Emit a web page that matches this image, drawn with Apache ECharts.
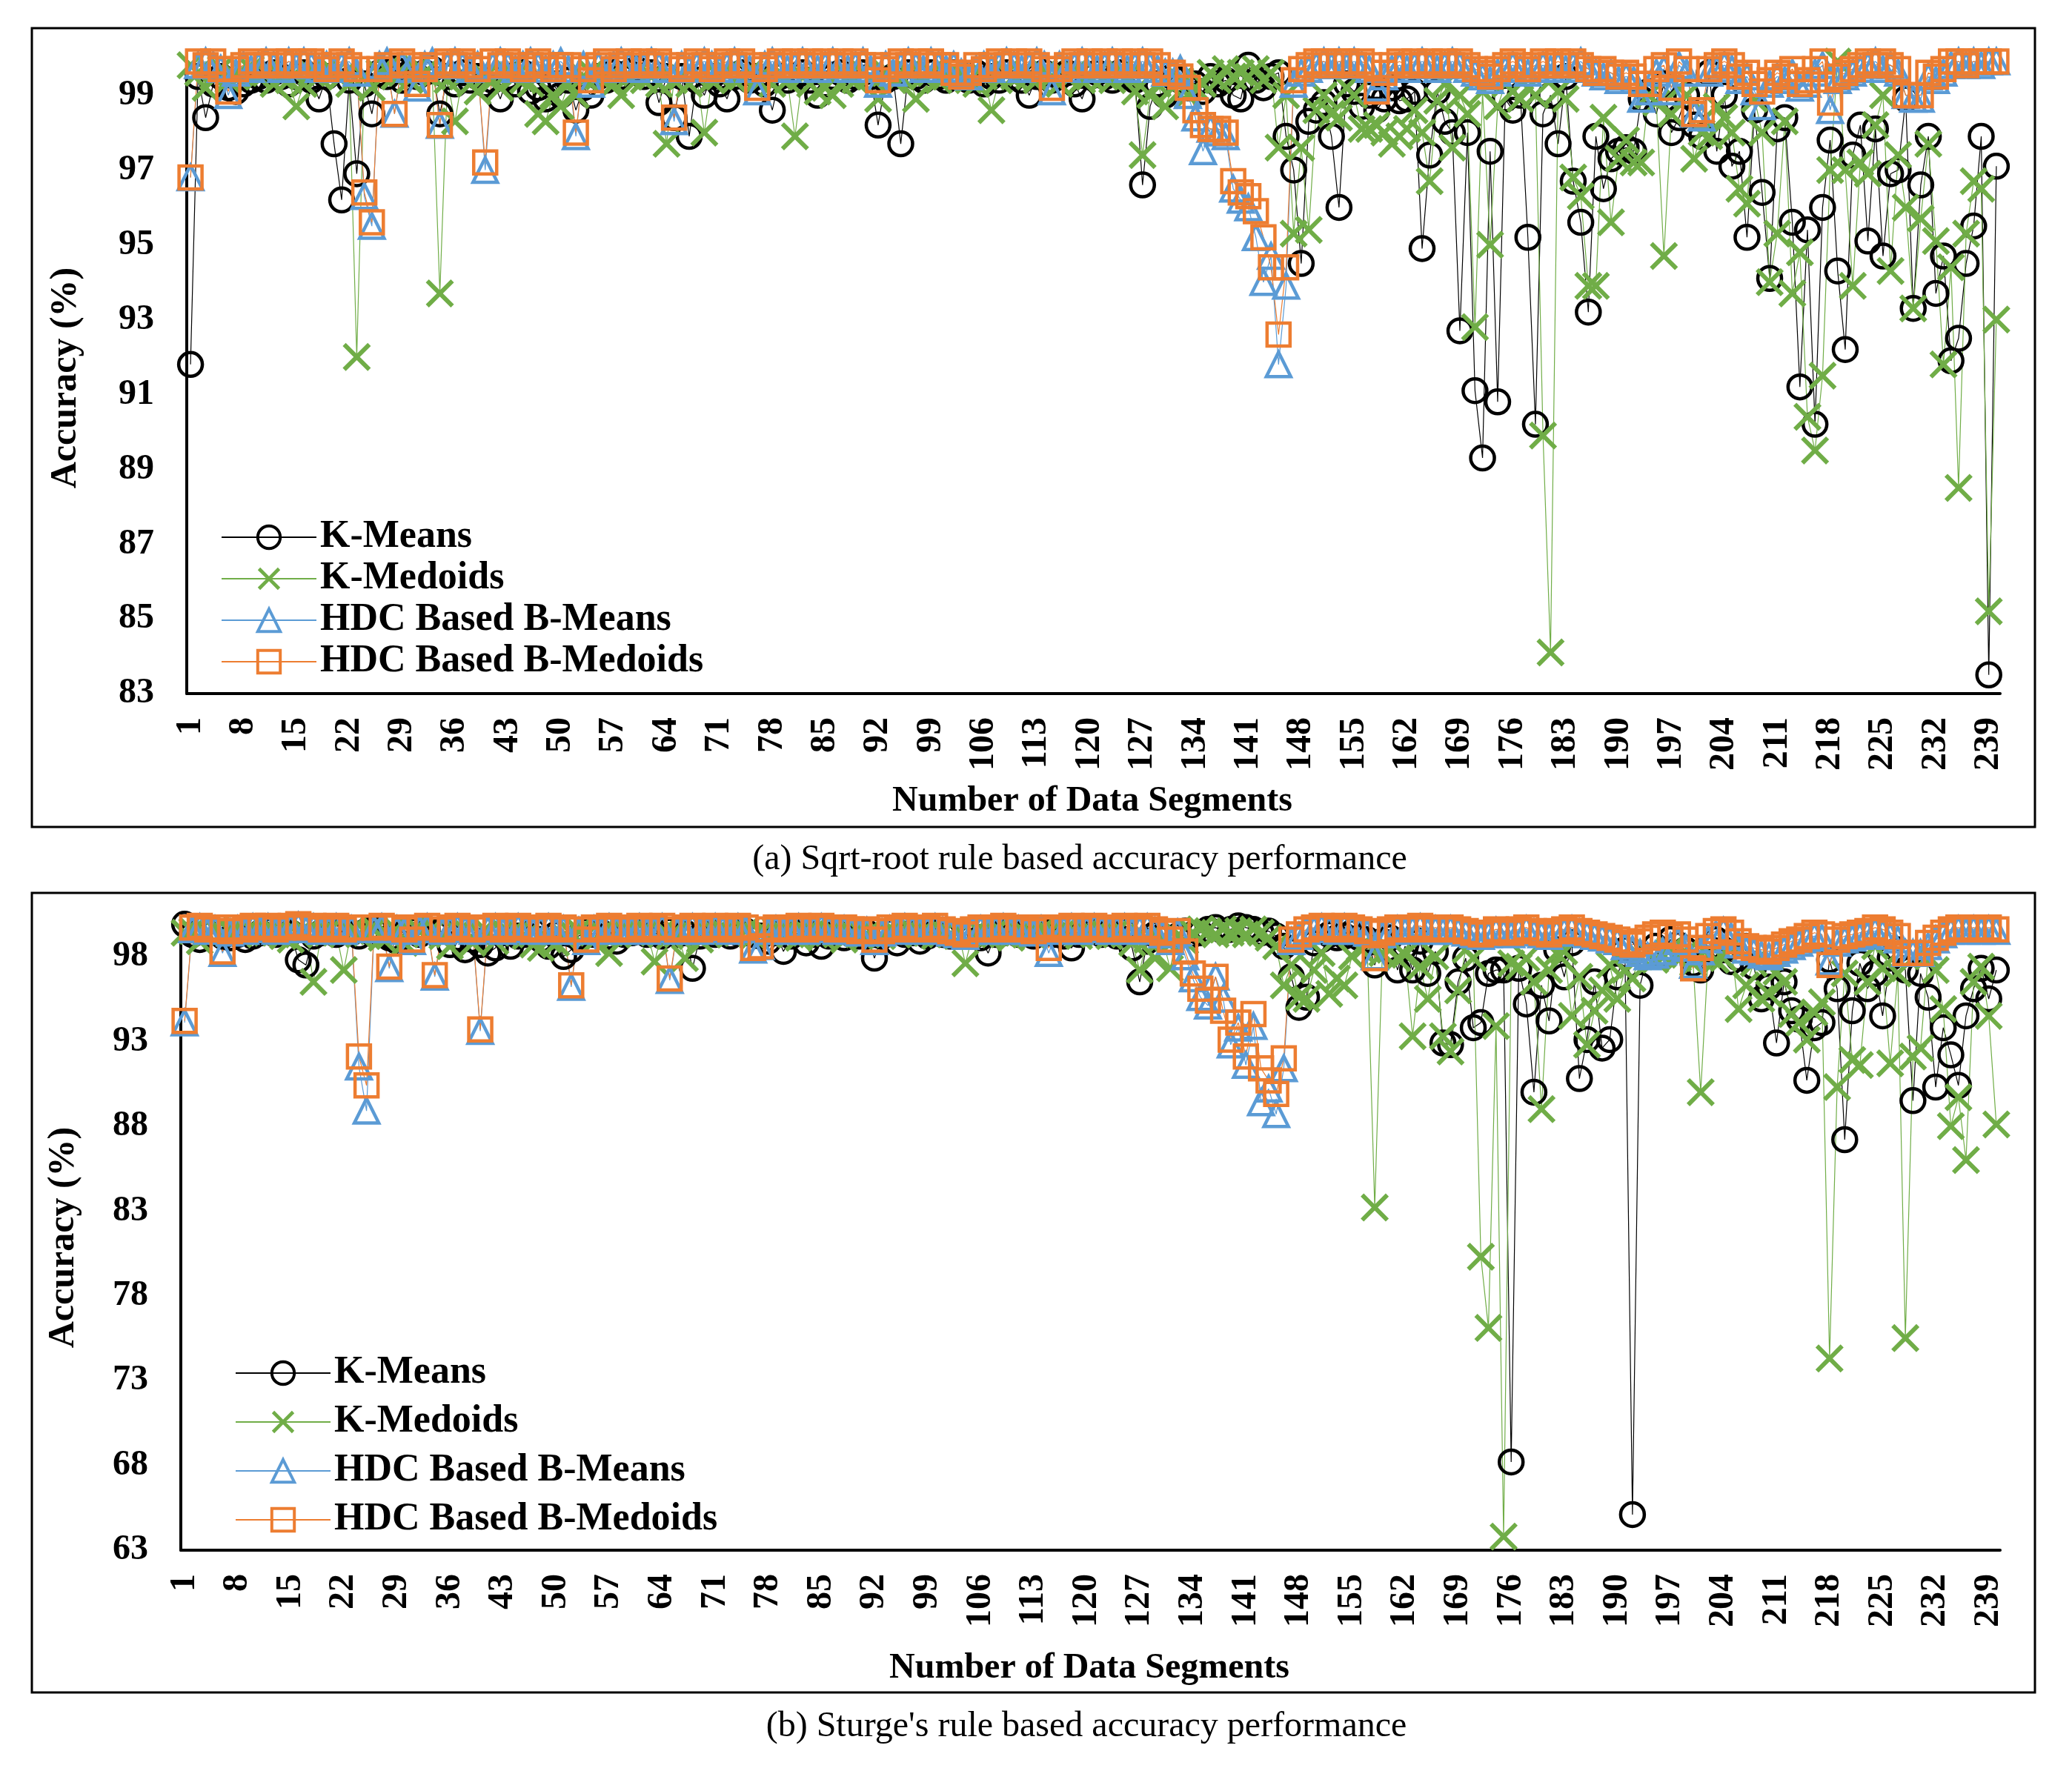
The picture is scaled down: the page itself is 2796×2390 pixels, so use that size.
<!DOCTYPE html>
<html>
<head>
<meta charset="utf-8">
<title>Accuracy performance</title>
<script src="https://cdn.jsdelivr.net/npm/echarts@6.0.0/dist/echarts.min.js"></script>
<style>
  html, body { margin: 0; padding: 0; background: #fff; }
  #chart { width: 2796px; height: 2390px; }
</style>
</head>
<body>
<div id="chart"></div>
<script>
// segment numbers 1..240 on the x axis
var segments = [];
for (var s = 1; s <= 240; s++) segments.push(String(s));

var seriesNames = ['K-Means', 'K-Medoids', 'HDC Based B-Means', 'HDC Based B-Medoids'];

// (a) Sqrt-root rule
var kMeansA = [
  91.8, 99.5, 98.4, 99.3, 99.5, 99.2, 99.1, 99.3, 99.4, 99.5,
  99.4, 99.6, 99.5, 99.3, 99.5, 99.6, 99.4, 98.9, 99.5, 97.7,
  96.2, 99.4, 96.9, 99.3, 98.5, 99.6, 99.5, 99.7, 99.4, 99.6,
  99.5, 99.6, 99.7, 98.5, 99.5, 99.3, 99.6, 99.4, 99.5, 99.3,
  99.4, 98.9, 99.5, 99.3, 99.6, 99.1, 99.2, 98.9, 99.3, 99.0,
  99.4, 98.6, 99.2, 99.0, 99.5, 99.4, 99.6, 99.5, 99.6, 99.7,
  99.5, 99.6, 98.8, 99.5, 98.4, 99.5, 97.9, 99.4, 99.0, 99.5,
  99.3, 98.9, 99.5, 99.6, 99.4, 99.5, 99.3, 98.6, 99.5, 99.4,
  99.5, 99.6, 99.4, 99.0, 99.3, 99.5, 99.6, 99.4, 99.5, 99.6,
  99.5, 98.2, 99.4, 99.5, 97.7, 99.6, 99.5, 99.4, 99.6, 99.5,
  99.4, 99.6, 99.5, 99.4, 99.6, 99.3, 99.5, 99.4, 99.6, 99.5,
  99.4, 99.0, 99.5, 99.6, 99.4, 99.5, 99.6, 99.3, 98.9, 99.5,
  99.6, 99.5, 99.4, 99.6, 99.5, 99.4, 96.6, 98.7, 99.3, 99.0,
  99.5, 99.4, 99.2, 99.3, 99.1, 99.5, 99.3, 99.4, 99.0, 98.9,
  99.8, 99.4, 99.2, 99.5, 99.6, 97.9, 97.0, 94.5, 98.3, 98.6,
  98.8, 97.9, 96.0, 99.3, 99.1, 98.7, 99.0, 98.6, 98.9, 99.2,
  98.85, 98.9, 99.1, 94.9, 97.4, 99.1, 98.3, 98.0, 92.7, 98.0,
  91.1, 89.3, 97.5, 90.8, 98.9, 98.6, 99.0, 95.2, 90.2, 98.5,
  99.0, 97.7, 99.5, 96.7, 95.6, 93.2, 97.9, 96.5, 97.3, 97.5,
  97.6, 97.5, 98.9, 99.1, 98.5, 99.3, 98.0, 98.4, 99.0, 98.2,
  97.9, 99.6, 97.5, 99.0, 97.1, 97.5, 95.2, 98.6, 96.4, 94.1,
  98.1, 98.4, 95.6, 91.2, 95.4, 90.2, 96.0, 97.8, 94.3, 92.2,
  97.4, 98.2, 95.1, 98.1, 94.7, 96.9, 97.0, 98.9, 93.3, 96.6,
  97.9, 93.7, 94.7, 91.9, 92.5, 94.5, 95.5, 97.9, 83.5, 97.1
];
var kMedoidsA = [
  99.8, 99.6, 99.2, 99.5, 99.7, 99.4, 99.5, 99.6, 99.7, 99.5,
  99.6, 99.3, 99.5, 99.4, 98.7, 99.3, 99.6, 99.5, 99.7, 99.6,
  99.5, 99.3, 92.0, 99.5, 99.2, 99.6, 99.7, 99.5, 99.6, 99.4,
  99.7, 99.6, 99.5, 93.7, 99.4, 98.3, 99.5, 99.3, 99.1, 99.5,
  99.4, 99.2, 99.6, 99.5, 99.4, 99.3, 98.5, 98.3, 99.0, 98.7,
  99.3, 99.0, 99.5, 99.6, 99.5, 99.4, 99.3, 99.0, 99.5, 99.6,
  99.4, 99.5, 99.3, 97.7, 99.4, 99.5, 99.3, 99.5, 98.0, 99.4,
  99.5, 99.6, 99.4, 99.5, 99.6, 99.4, 99.5, 99.3, 99.5, 99.4,
  97.9, 99.5, 99.3, 99.1, 99.2, 99.0, 99.3, 99.5, 99.4, 99.6,
  99.5, 98.9, 99.6, 99.4, 99.5, 99.6, 98.9, 99.5, 99.6, 99.4,
  99.5, 99.6, 99.5, 99.4, 99.3, 99.5, 98.6, 99.4, 99.6, 99.5,
  99.6, 99.5, 99.4, 99.6, 99.5, 99.3, 99.5, 99.6, 99.4, 99.5,
  99.6, 99.5, 99.4, 99.6, 99.5, 99.1, 97.4, 99.0, 99.3, 98.7,
  99.2, 99.4, 99.0, 99.2, 99.3, 99.6, 99.4, 99.7, 99.5, 99.6,
  99.5, 99.7, 99.4, 99.6, 97.6, 99.0, 95.3, 97.6, 95.4, 98.6,
  99.0, 98.5, 98.4, 99.2, 99.0, 98.1, 98.1, 98.2, 98.0, 97.7,
  97.9, 98.1, 98.6, 98.0, 96.7, 98.85, 99.3, 97.6, 99.0, 98.5,
  92.8, 99.1, 95.0, 98.7, 99.3, 99.1, 98.9, 99.2, 99.0, 89.9,
  84.1, 99.1, 98.9, 96.8, 96.3, 93.9, 93.9, 98.4, 95.6, 97.3,
  97.8, 97.2, 97.2, 99.0, 98.8, 94.7, 98.5, 99.2, 99.0, 97.3,
  98.0, 97.9, 98.7, 98.4, 98.0, 96.5, 96.1, 98.9, 98.0, 94.0,
  95.3, 98.3, 93.7, 94.8, 90.4, 89.5, 91.5, 97.0, 99.9, 97.0,
  93.9, 97.2, 96.9, 98.2, 99.0, 94.3, 97.4, 96.0, 93.3, 95.7,
  97.7, 95.1, 91.8, 94.4, 88.5, 95.3, 96.7, 96.5, 85.2, 93.0
];
var bMeansA = [
  96.8, 99.8, 99.9, 99.8, 99.7, 99.0, 99.6, 99.8, 99.7, 99.8,
  99.9, 99.8, 99.7, 99.9, 99.8, 99.9, 99.8, 99.7, 99.8, 99.7,
  99.8, 99.9, 99.6, 96.3, 95.5, 99.8, 99.9, 98.5, 99.8, 99.7,
  99.2, 99.8, 99.9, 98.2, 99.8, 99.9, 99.8, 99.7, 99.8, 97.0,
  99.8, 99.9, 99.8, 99.7, 99.8, 99.9, 99.8, 99.7, 99.8, 99.9,
  99.7, 97.9, 99.8, 99.3, 99.8, 99.7, 99.8, 99.9, 99.8, 99.7,
  99.8, 99.9, 99.8, 99.7, 98.3, 99.8, 99.7, 99.8, 99.9, 99.8,
  99.7, 99.8, 99.9, 99.8, 99.7, 99.1, 99.8, 99.9, 99.8, 99.7,
  99.8, 99.9, 99.8, 99.7, 99.8, 99.9, 99.8, 99.7, 99.8, 99.9,
  99.7, 99.3, 99.8, 99.6, 99.8, 99.9, 99.8, 99.7, 99.9, 99.8,
  99.7, 99.8, 99.6, 99.5, 99.7, 99.8, 99.7, 99.8, 99.9, 99.8,
  99.7, 99.8, 99.9, 99.8, 99.1, 99.8, 99.7, 99.8, 99.9, 99.8,
  99.7, 99.8, 99.9, 99.8, 99.7, 99.8, 99.9, 99.8, 99.7, 99.6,
  99.6, 99.7, 99.0, 98.4, 97.5, 98.1, 98.0, 97.9, 96.5, 96.2,
  96.0, 95.2, 94.0, 94.7, 91.8, 93.9, 99.3, 99.6, 99.7, 99.8,
  99.9, 99.8, 99.9, 99.8, 99.9, 99.8, 99.7, 99.2, 99.5, 99.7,
  99.8, 99.7, 99.8, 99.9, 99.8, 99.7, 99.8, 99.9, 99.8, 99.7,
  99.6, 99.5, 99.4, 99.6, 99.7, 99.8, 99.7, 99.6, 99.7, 99.8,
  99.7, 99.8, 99.7, 99.8, 99.9, 99.7, 99.6, 99.5, 99.6, 99.4,
  99.5, 99.4, 98.9, 99.1, 99.6, 99.7, 99.1, 99.8, 99.6, 98.5,
  98.4, 99.6, 99.7, 99.8, 99.7, 99.4, 99.5, 99.1, 98.7, 99.3,
  99.5, 99.4, 99.6, 99.2, 99.3, 99.6, 99.8, 98.6, 99.4, 99.5,
  99.6, 99.7, 99.8, 99.9, 99.7, 99.8, 99.6, 99.0, 98.9, 98.9,
  99.5, 99.4, 99.6, 99.8, 99.9, 99.8, 99.9, 99.8, 99.9, 99.9
];
var bMedoidsA = [
  96.8, 99.9, 99.8, 99.9, 99.7, 99.1, 99.7, 99.8, 99.9, 99.8,
  99.8, 99.9, 99.8, 99.9, 99.8, 99.9, 99.9, 99.8, 99.7, 99.8,
  99.9, 99.8, 99.7, 96.4, 95.6, 99.7, 99.8, 98.5, 99.9, 99.8,
  99.3, 99.7, 99.8, 98.2, 99.9, 99.8, 99.9, 99.8, 99.7, 97.2,
  99.9, 99.8, 99.9, 99.8, 99.7, 99.8, 99.9, 99.8, 99.7, 99.8,
  99.8, 98.0, 99.7, 99.4, 99.8, 99.9, 99.7, 99.8, 99.9, 99.8,
  99.9, 99.8, 99.9, 99.8, 98.4, 99.7, 99.8, 99.9, 99.8, 99.7,
  99.8, 99.9, 99.8, 99.9, 99.8, 99.2, 99.7, 99.8, 99.9, 99.8,
  99.9, 99.8, 99.9, 99.8, 99.9, 99.8, 99.9, 99.8, 99.9, 99.8,
  99.8, 99.4, 99.7, 99.8, 99.9, 99.8, 99.9, 99.8, 99.9, 99.8,
  99.8, 99.6, 99.5, 99.6, 99.8, 99.7, 99.8, 99.9, 99.8, 99.9,
  99.8, 99.9, 99.8, 99.7, 99.2, 99.7, 99.8, 99.9, 99.8, 99.9,
  99.8, 99.9, 99.8, 99.9, 99.8, 99.9, 99.8, 99.9, 99.8, 99.6,
  99.6, 99.5, 99.2, 98.6, 98.2, 98.1, 98.1, 98.0, 96.7, 96.4,
  96.3, 95.9, 95.2, 94.4, 92.6, 94.4, 99.4, 99.7, 99.8, 99.9,
  99.9, 99.8, 99.9, 99.9, 99.8, 99.9, 99.8, 99.1, 99.6, 99.8,
  99.9, 99.8, 99.9, 99.8, 99.9, 99.8, 99.9, 99.8, 99.9, 99.8,
  99.7, 99.6, 99.5, 99.7, 99.8, 99.9, 99.8, 99.7, 99.8, 99.9,
  99.8, 99.9, 99.8, 99.9, 99.8, 99.7, 99.6, 99.7, 99.6, 99.5,
  99.6, 99.5, 99.3, 99.3, 99.7, 99.8, 99.2, 99.9, 99.7, 98.5,
  98.6, 99.7, 99.8, 99.9, 99.8, 99.5, 99.6, 99.3, 99.1, 99.4,
  99.6, 99.5, 99.7, 99.3, 99.4, 99.7, 99.9, 98.8, 99.5, 99.6,
  99.7, 99.8, 99.9, 99.8, 99.9, 99.8, 99.7, 99.0, 99.0, 99.0,
  99.6, 99.5, 99.7, 99.9, 99.9, 99.8, 99.9, 99.9, 99.9, 99.9
];

// (b) Sturge's rule
var kMeansB = [
  99.9, 99.3, 99.0, 99.4, 99.5, 99.2, 99.1, 99.3, 99.0, 99.2,
  99.4, 99.5, 99.3, 99.5, 99.4, 97.8, 97.5, 99.2, 99.4, 99.5,
  99.3, 99.5, 99.4, 99.2, 99.5, 99.6, 99.3, 99.1, 98.9, 99.4,
  99.5, 99.3, 99.6, 99.4, 99.5, 98.7, 99.1, 98.4, 99.0, 98.7,
  98.2, 98.5, 99.4, 98.6, 99.2, 99.3, 99.5, 99.0, 98.6, 99.3,
  98.0, 98.4, 99.2, 99.5, 99.3, 99.4, 99.2, 98.9, 99.3, 99.4,
  99.5, 99.3, 99.4, 99.2, 99.5, 99.3, 99.4, 97.3, 99.2, 99.4,
  99.3, 99.5, 99.2, 99.4, 99.5, 99.3, 99.2, 98.9, 99.4, 98.3,
  99.2, 99.4, 98.8, 99.3, 98.6, 99.2, 99.4, 99.1, 99.3, 99.2,
  99.4, 97.9, 99.2, 99.4, 98.8, 99.3, 99.4, 98.9, 99.2, 99.4,
  99.3, 99.2, 99.4, 99.3, 99.2, 99.1, 98.2, 99.3, 99.4, 99.5,
  99.3, 99.4, 99.2, 99.5, 99.4, 99.3, 99.2, 98.5, 99.3, 99.4,
  99.5, 99.3, 99.4, 99.2, 99.5, 98.5, 96.5, 98.9, 99.3, 99.2,
  99.4, 99.2, 99.5, 99.3, 99.4, 99.6, 99.7, 99.5, 99.6, 99.8,
  99.7, 99.6, 99.4, 99.5, 99.2, 98.6, 96.8, 95.0, 95.6, 98.8,
  99.0, 99.3, 99.1, 99.2, 99.4, 99.1, 99.0, 97.5, 98.9, 99.1,
  97.2, 98.6, 97.2, 98.9, 97.0, 98.3, 92.9, 92.8, 96.5, 97.9,
  93.8, 94.1, 97.0, 97.2, 97.2, 68.2, 97.3, 95.2, 90.0, 96.3,
  94.2, 98.4, 96.8, 98.8, 90.8, 93.1, 96.5, 92.6, 93.1, 96.8,
  98.4, 65.1, 96.3, 98.0, 98.6, 98.2, 99.0, 98.7, 98.4, 97.6,
  97.2, 98.5, 99.0, 98.4, 97.7, 97.9, 98.6, 97.4, 95.5, 96.2,
  92.9, 96.5, 94.8, 94.3, 90.7, 93.8, 94.1, 97.8, 96.1, 87.2,
  94.8, 97.6, 96.1, 97.0, 94.5, 97.9, 98.4, 97.2, 89.5, 97.0,
  95.6, 90.3, 93.8, 92.2, 90.4, 94.5, 96.1, 97.3, 95.5, 97.2
];
var kMedoidsB = [
  99.4, 99.5, 98.9, 99.3, 99.6, 99.4, 99.5, 99.6, 99.4, 99.5,
  99.3, 99.5, 99.4, 99.2, 99.0, 99.3, 99.4, 96.5, 99.3, 99.5,
  99.4, 97.2, 99.5, 99.3, 99.4, 99.6, 99.1, 99.2, 99.5, 98.8,
  99.4, 99.5, 99.3, 99.6, 99.2, 98.6, 99.4, 99.5, 98.8, 99.3,
  99.4, 98.9, 99.5, 99.3, 99.4, 99.2, 98.7, 98.5, 99.0, 98.8,
  99.2, 99.4, 99.5, 99.3, 98.9, 99.4, 98.2, 99.3, 99.5, 99.4,
  99.3, 99.5, 97.7, 99.4, 99.2, 99.3, 97.9, 99.4, 99.0, 99.3,
  99.4, 99.5, 99.3, 99.4, 99.5, 99.2, 99.4, 99.3, 99.5, 99.4,
  99.3, 99.1, 99.4, 99.5, 99.2, 99.4, 99.3, 99.0, 99.4, 99.5,
  99.3, 99.4, 99.2, 99.5, 99.3, 99.4, 99.5, 99.3, 99.4, 99.2,
  99.4, 99.3, 99.5, 97.6, 99.3, 99.4, 99.2, 99.5, 99.3, 99.1,
  99.4, 99.3, 99.2, 99.5, 99.4, 99.3, 99.5, 99.4, 99.2, 99.5,
  99.3, 99.4, 99.2, 99.5, 99.3, 98.8, 97.2, 99.0, 97.9, 99.1,
  97.3, 99.2, 98.9, 99.4, 99.6, 99.5, 99.3, 99.6, 99.4, 99.5,
  99.3, 99.6, 99.4, 99.1, 98.6, 96.3, 97.5, 95.6, 95.5, 97.2,
  98.2, 95.8, 96.7, 96.3, 98.0, 98.5, 98.7, 83.2, 98.2, 98.4,
  97.9, 98.1, 93.3, 97.4, 95.5, 98.0, 93.3, 92.4, 96.0, 98.4,
  97.9, 80.3, 76.1, 93.9, 63.8, 97.6, 97.4, 97.9, 96.5, 89.0,
  97.2, 98.2, 98.3, 94.5, 96.8, 92.8, 94.8, 96.0, 97.5, 95.5,
  97.2, 96.7, 98.0, 98.3, 97.8, 98.1, 98.4, 97.9, 98.2, 97.6,
  90.0, 98.1, 97.8, 97.9, 98.6, 94.9, 96.3, 97.6, 95.5, 95.8,
  97.1, 96.5, 94.6, 94.1, 93.1, 94.7, 95.3, 74.3, 90.3, 97.0,
  91.9, 91.6, 96.5, 98.6, 97.3, 91.7, 97.0, 75.5, 92.1, 92.6,
  98.0, 97.2, 94.9, 88.0, 89.7, 86.0, 96.5, 97.4, 94.5, 88.1
];
var bMeansB = [
  94.1, 99.6, 99.7, 99.5, 99.6, 98.2, 99.4, 99.6, 99.5, 99.7,
  99.6, 99.7, 99.5, 99.6, 99.7, 99.8, 99.6, 99.7, 99.5, 99.6,
  99.7, 99.5, 99.6, 91.5, 88.9, 99.6, 99.7, 97.3, 99.6, 99.5,
  98.9, 99.6, 99.7, 96.8, 99.5, 99.6, 99.7, 99.6, 99.5, 93.6,
  99.6, 99.7, 99.5, 99.6, 99.7, 99.6, 99.5, 99.6, 99.7, 99.5,
  99.6, 96.2, 99.5, 98.9, 99.6, 99.5, 99.7, 99.6, 99.5, 99.6,
  99.7, 99.5, 99.6, 99.7, 96.6, 99.5, 99.6, 99.7, 99.5, 99.6,
  99.7, 99.6, 99.5, 99.7, 99.6, 98.4, 98.6, 99.5, 99.6, 99.5,
  99.6, 99.7, 99.5, 99.6, 99.7, 99.6, 99.5, 99.6, 99.5, 99.4,
  99.5, 98.9, 99.4, 99.6, 99.5, 99.7, 99.6, 99.5, 99.6, 99.7,
  99.5, 99.4, 99.3, 99.2, 99.5, 99.6, 99.5, 99.6, 99.7, 99.5,
  99.6, 99.5, 99.4, 99.6, 98.2, 99.5, 99.6, 99.7, 99.5, 99.6,
  99.7, 99.6, 99.5, 99.6, 99.7, 99.5, 99.6, 99.7, 99.5, 99.3,
  98.9, 99.4, 98.0, 96.7, 95.6, 95.1, 96.8, 95.5, 92.8, 93.8,
  91.6, 93.9, 89.4, 90.2, 88.7, 91.4, 98.9, 99.2, 99.5, 99.6,
  99.7, 99.6, 99.5, 99.7, 99.6, 99.5, 99.4, 98.0, 99.3, 99.5,
  99.6, 99.5, 99.6, 99.7, 99.5, 99.6, 99.5, 99.6, 99.5, 99.4,
  99.3, 99.2, 99.3, 99.5, 99.4, 99.3, 99.5, 99.6, 99.4, 99.3,
  99.2, 99.4, 99.5, 99.6, 99.4, 99.3, 99.2, 99.1, 99.0, 98.9,
  98.6, 98.4, 98.2, 98.0, 98.1, 98.3, 98.6, 98.9, 98.5, 97.5,
  98.3, 99.0, 99.3, 99.5, 99.2, 98.7, 98.4, 98.3, 98.1, 98.0,
  98.2, 98.4, 98.6, 98.8, 99.0, 99.2, 99.1, 97.7, 98.8, 99.0,
  99.1, 99.2, 99.3, 99.5, 99.4, 99.2, 99.0, 98.2, 98.2, 98.2,
  98.6, 99.0, 99.3, 99.5, 99.6, 99.5, 99.6, 99.5, 99.6, 99.5
];
var bMedoidsB = [
  94.2, 99.7, 99.8, 99.6, 99.7, 98.3, 99.5, 99.7, 99.6, 99.8,
  99.7, 99.8, 99.6, 99.7, 99.8, 99.9, 99.7, 99.8, 99.6, 99.7,
  99.8, 99.6, 99.7, 92.1, 90.4, 99.7, 99.8, 97.4, 99.7, 99.6,
  99.0, 99.7, 99.8, 96.9, 99.6, 99.7, 99.8, 99.7, 99.6, 93.7,
  99.7, 99.8, 99.6, 99.7, 99.8, 99.7, 99.6, 99.7, 99.8, 99.6,
  99.7, 96.3, 99.6, 99.0, 99.7, 99.6, 99.8, 99.7, 99.6, 99.7,
  99.8, 99.6, 99.7, 99.8, 96.7, 99.6, 99.7, 99.8, 99.6, 99.7,
  99.8, 99.7, 99.6, 99.8, 99.7, 98.5, 98.6, 99.6, 99.7, 99.6,
  99.7, 99.8, 99.6, 99.7, 99.8, 99.7, 99.6, 99.7, 99.6, 99.5,
  99.6, 99.0, 99.5, 99.7, 99.6, 99.8, 99.7, 99.6, 99.7, 99.8,
  99.6, 99.5, 99.4, 99.3, 99.6, 99.7, 99.6, 99.7, 99.8, 99.6,
  99.7, 99.6, 99.5, 99.7, 98.5, 99.6, 99.7, 99.8, 99.6, 99.7,
  99.8, 99.7, 99.6, 99.7, 99.8, 99.6, 99.7, 99.8, 99.6, 99.4,
  99.0, 99.5, 98.3, 97.0, 96.1, 95.4, 96.8, 94.8, 93.1, 94.1,
  92.1, 94.6, 91.4, 90.7, 89.9, 92.0, 99.0, 99.3, 99.6, 99.7,
  99.8, 99.7, 99.6, 99.8, 99.7, 99.6, 99.5, 97.9, 99.4, 99.6,
  99.7, 99.6, 99.7, 99.8, 99.6, 99.7, 99.6, 99.7, 99.6, 99.5,
  99.4, 99.3, 99.4, 99.6, 99.5, 99.4, 99.6, 99.7, 99.5, 99.4,
  99.3, 99.5, 99.6, 99.7, 99.5, 99.4, 99.3, 99.2, 99.1, 99.0,
  98.8, 98.7, 98.9, 99.1, 99.3, 99.4, 99.2, 99.3, 99.0, 97.3,
  98.5, 99.2, 99.5, 99.6, 99.4, 98.9, 98.6, 98.5, 98.4, 98.3,
  98.5, 98.7, 98.9, 99.0, 99.2, 99.4, 99.3, 97.5, 99.0, 99.2,
  99.3, 99.4, 99.5, 99.7, 99.6, 99.4, 99.2, 98.2, 98.2, 98.2,
  98.8, 99.1, 99.4, 99.6, 99.7, 99.6, 99.7, 99.6, 99.7, 99.6
];

var serifFont = "'Times New Roman', 'Liberation Serif', serif";
var crossPath = 'path://M0,1.1L1.1,0L5,3.9L8.9,0L10,1.1L6.1,5L10,8.9L8.9,10L5,6.1L1.1,10L0,8.9L3.9,5Z';

var looks = [
  { color: '#000000', symbol: 'circle', size: 32, filled: false },
  { color: '#70AD47', symbol: crossPath, size: 38, filled: true },
  { color: '#5B9BD5', symbol: 'triangle', size: 33, filled: false },
  { color: '#ED7D31', symbol: 'rect', size: 31, filled: false }
];

function makeSeries(idx, values, gridIdx) {
  var lk = looks[idx];
  return {
    name: seriesNames[idx],
    type: 'line',
    xAxisIndex: gridIdx,
    yAxisIndex: gridIdx,
    data: values,
    symbol: lk.symbol,
    symbolSize: lk.size,
    showAllSymbol: true,
    lineStyle: { color: lk.color, width: 1.2 },
    itemStyle: lk.filled
      ? { color: lk.color, borderWidth: 0 }
      : { color: 'rgba(255,255,255,0)', borderColor: lk.color, borderWidth: 4.5 },
    emphasis: { disabled: true }
  };
}

function xAxisFor(gridIdx) {
  return {
    type: 'category',
    gridIndex: gridIdx,
    data: segments,
    boundaryGap: true,
    axisLine: { lineStyle: { color: '#000', width: 4 } },
    axisTick: { show: false },
    axisLabel: {
      interval: 6, rotate: 90, margin: 32,
      fontFamily: serifFont, fontWeight: 'bold', fontSize: 48, color: '#000'
    },
    splitLine: { show: false }
  };
}

function yAxisFor(gridIdx, mn, step) {
  return {
    type: 'value',
    gridIndex: gridIdx,
    min: mn, max: 100, interval: step,
    axisLine: { show: true, lineStyle: { color: '#000', width: 4 } },
    axisTick: { show: false },
    axisLabel: {
      showMaxLabel: false, margin: 44,
      fontFamily: serifFont, fontWeight: 'bold', fontSize: 48, color: '#000'
    },
    splitLine: { show: false }
  };
}

function legendAt(left, top, gap) {
  return {
    orient: 'vertical',
    left: left, top: top,
    itemWidth: 128, itemHeight: 38, itemGap: gap,
    selectedMode: false,
    data: seriesNames,
    itemStyle: { borderWidth: 4 },
    textStyle: {
      fontFamily: serifFont, fontWeight: 'bold', fontSize: 52, color: '#000', lineHeight: 52
    }
  };
}

function boxText(x, y, txt, size, bold, rot) {
  return {
    type: 'text', x: x, y: y, rotation: rot || 0,
    style: {
      text: txt, fill: '#000', font: (bold ? 'bold ' : '') + size + 'px ' + serifFont,
      textAlign: 'center', textVerticalAlign: 'middle'
    }
  };
}

var chart = echarts.init(document.getElementById('chart'), null, { renderer: 'canvas' });

var option = {
  backgroundColor: '#ffffff',
  animation: false,
  grid: [
    { left: 252, top: 78, width: 2447, height: 858 },
    { left: 244, top: 1245, width: 2455, height: 847 }
  ],
  xAxis: [xAxisFor(0), xAxisFor(1)],
  yAxis: [yAxisFor(0, 83, 2), yAxisFor(1, 63, 5)],
  legend: [legendAt(293, 694, 4), legendAt(312, 1822, 14)],
  series: [
    makeSeries(0, kMeansA, 0),
    makeSeries(1, kMedoidsA, 0),
    makeSeries(2, bMeansA, 0),
    makeSeries(3, bMedoidsA, 0),
    makeSeries(0, kMeansB, 1),
    makeSeries(1, kMedoidsB, 1),
    makeSeries(2, bMeansB, 1),
    makeSeries(3, bMedoidsB, 1)
  ],
  graphic: [
    { type: 'rect', shape: { x: 43, y: 38, width: 2703, height: 1078 },
      style: { fill: 'none', stroke: '#000', lineWidth: 3 } },
    { type: 'rect', shape: { x: 43, y: 1205, width: 2703, height: 1079 },
      style: { fill: 'none', stroke: '#000', lineWidth: 3 } },
    boxText(89, 510, 'Accuracy (%)', 50, true, Math.PI / 2),
    boxText(86, 1670, 'Accuracy (%)', 50, true, Math.PI / 2),
    boxText(1474, 1082, 'Number of Data Segments', 48, true),
    boxText(1470, 2252, 'Number of Data Segments', 48, true),
    boxText(1457, 1160, '(a) Sqrt-root rule based accuracy performance', 48, false),
    boxText(1466, 2330, "(b) Sturge's rule based accuracy performance", 48, false)
  ]
};

chart.setOption(option);
</script>
</body>
</html>
